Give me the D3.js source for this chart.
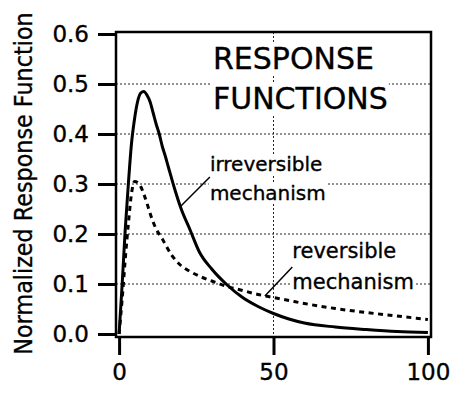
<!DOCTYPE html>
<html><head><meta charset="utf-8">
<script src="https://cdn.jsdelivr.net/npm/d3@7"></script>
<style>html,body{margin:0;padding:0;background:#fff;}svg{display:block;font-family:"DejaVu Sans",sans-serif;}</style>
</head><body>
<svg id="chart" width="457" height="396"></svg>
<script>
// Irreversible mechanism (solid)
const irrT = [0,1,2,3,4,5,6,7,8,9,10,11,12,13,14,15,16,18,20,23,26,30,35,40,45,50,55,60,70,80,90,100];
const irrV = [0,0.10,0.21,0.30,0.38,0.43,0.465,0.482,0.485,0.478,0.465,0.443,0.42,0.40,0.375,0.355,0.333,0.29,0.252,0.208,0.164,0.13,0.098,0.073,0.055,0.041,0.030,0.022,0.014,0.009,0.005,0.003];
// Reversible mechanism (dashed)
const revT = [0,1,2,3,4,5,6,7,8,9,10,12,14,17,20,23,27,30,35,40,45,50,55,60,70,80,90,100];
const revV = [0,0.07,0.15,0.22,0.28,0.305,0.303,0.295,0.28,0.262,0.242,0.21,0.19,0.158,0.137,0.125,0.113,0.106,0.095,0.087,0.079,0.073,0.067,0.061,0.051,0.043,0.036,0.029];
const yTicks = [0.0,0.1,0.2,0.3,0.4,0.5,0.6];
const xTicks = [0,50,100];
const yGrid = [0.1,0.2,0.3,0.4,0.5];
const xGrid = [50];
const titleLines = ["RESPONSE","FUNCTIONS"];
const yLabel = "Normalized Response Function";

const svg = d3.select("#chart");
const x = d3.scaleLinear().domain([-1,101]).range([116,431]);
const y = d3.scaleLinear().domain([-0.006,0.604]).range([337,32]);

// grid
const g = svg.append("g");
g.selectAll("line.hg").data(yGrid).join("line")
  .attr("x1",x(-1)).attr("x2",x(101)).attr("y1",d=>y(d)).attr("y2",d=>y(d))
  .attr("stroke","#222").attr("stroke-width",1).attr("stroke-dasharray","2,2");
g.selectAll("line.vg").data(xGrid).join("line")
  .attr("x1",d=>x(d)).attr("x2",d=>x(d)).attr("y1",y(0.604)).attr("y2",y(-0.006))
  .attr("stroke","#222").attr("stroke-width",1).attr("stroke-dasharray","2,2");

// annotation texts (with white backgrounds)
const notes = [
  {lines:["irreversible","mechanism"], t:29.4, v:[0.326,0.268], size:20},
  {lines:["reversible","mechanism"], t:56.1, v:[0.152,0.090], size:21}
];
const title = {lines:titleLines, t:30.4, v:[0.531,0.451], size:30};

function addText(o){
  const grp = svg.append("g");
  const texts = o.lines.map((s,i)=>grp.append("text")
    .attr("x",x(o.t)).attr("y",y(o.v[i])).attr("font-size",o.size)
    .attr("stroke","#000").attr("stroke-width",0.35).text(s));
  return {grp,texts};
}
const items = [title, ...notes].map(addText);
// backgrounds
items.forEach(it=>{
  it.texts.forEach(t=>{
    const b = t.node().getBBox();
    it.grp.insert("rect","text").attr("x",b.x-1).attr("y",b.y+2).attr("width",b.width+2).attr("height",b.height-3).attr("fill","#fff");
  });
});

// curves
const line = d3.line().x(d=>x(d[0])).y(d=>y(d[1])).curve(d3.curveMonotoneX);
svg.append("path").datum(revT.map((t,i)=>[t,revV[i]])).attr("d",line)
  .attr("fill","none").attr("stroke","#000").attr("stroke-width",3).attr("stroke-dasharray","5,4.5");
svg.append("path").datum(irrT.map((t,i)=>[t,irrV[i]])).attr("d",line)
  .attr("fill","none").attr("stroke","#000").attr("stroke-width",3);

// leader lines
const leaders = [[[29.4,0.314],[19.7,0.254]],[[56.1,0.134],[47.2,0.076]]];
svg.selectAll("line.ld").data(leaders).join("line")
  .attr("x1",d=>x(d[0][0])).attr("y1",d=>y(d[0][1])).attr("x2",d=>x(d[1][0])).attr("y2",d=>y(d[1][1]))
  .attr("stroke","#000").attr("stroke-width",1.5);

// bring texts to front
items.forEach(it=>it.grp.raise());

// frame
svg.append("rect").attr("x",x(-1)).attr("y",y(0.604)).attr("width",x(101)-x(-1)).attr("height",y(-0.006)-y(0.604))
  .attr("fill","none").attr("stroke","#000").attr("stroke-width",2.5);

// axes
const yAxis = d3.axisLeft(y).tickValues(yTicks).tickFormat(d3.format(".1f")).tickSize(18).tickPadding(9);
const ya = svg.append("g").attr("transform",`translate(${x(-1)},0)`).call(yAxis);
ya.select(".domain").remove();
ya.selectAll("line").attr("stroke-width",3);
ya.selectAll("text").attr("font-size",23).attr("font-family","DejaVu Sans").attr("fill","#000")
  .attr("stroke","#000").attr("stroke-width",0.35);

const xAxis = d3.axisBottom(x).tickValues(xTicks).tickSize(18).tickPadding(9);
const xa = svg.append("g").attr("transform",`translate(0,${y(-0.006)})`).call(xAxis);
xa.select(".domain").remove();
xa.selectAll("line").attr("stroke-width",3);
xa.selectAll("text").attr("font-size",23).attr("font-family","DejaVu Sans").attr("fill","#000")
  .attr("stroke","#000").attr("stroke-width",0.35);

svg.append("text").attr("transform",`translate(32,183.5) rotate(-90) scale(1,1.08)`).attr("text-anchor","middle")
  .attr("font-size",22.3)
  .attr("stroke","#000").attr("stroke-width",0.3).text(yLabel);
</script>
</body></html>
